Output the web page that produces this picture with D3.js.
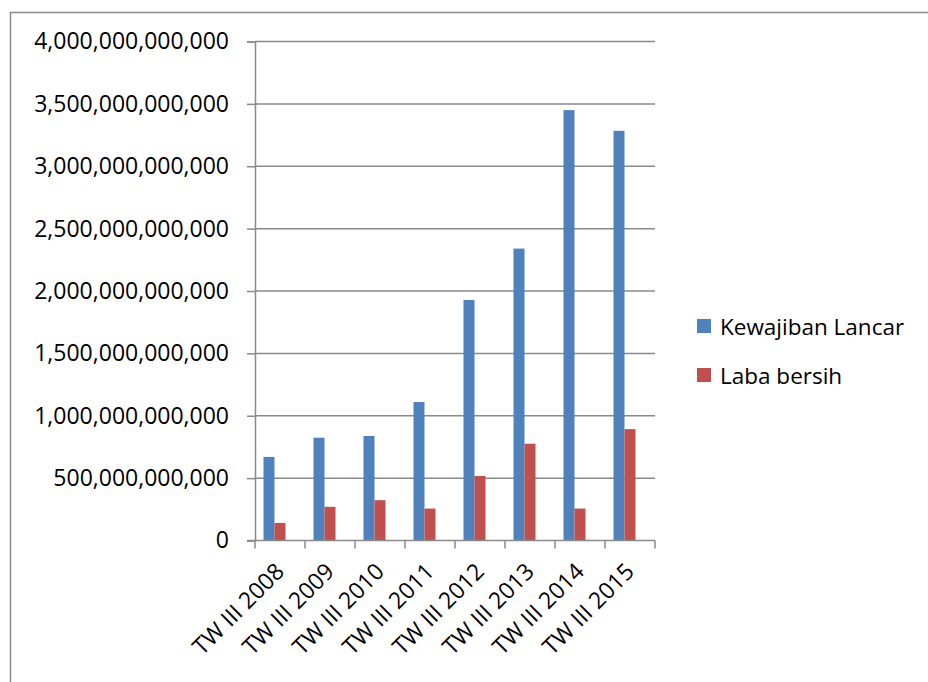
<!DOCTYPE html>
<html>
<head>
<meta charset="utf-8">
<script src="https://cdn.jsdelivr.net/npm/d3@7"></script>
<style>
  html, body { margin: 0; padding: 0; background: #fff; }
  svg text { font-family: "Open Sans", Lato, sans-serif; fill: #000; }
</style>
</head>
<body>
<svg id="chart" width="928" height="682"></svg>
<script>
// Quarterly figures (Rupiah)
const categories = ["TW III 2008", "TW III 2009", "TW III 2010", "TW III 2011",
                    "TW III 2012", "TW III 2013", "TW III 2014", "TW III 2015"];
const kewajibanLancar = [670e9, 824e9, 838e9, 1110e9, 1928e9, 2340e9, 3450e9, 3284e9];
const labaBersih = [141e9, 270e9, 323e9, 256e9, 517e9, 776e9, 256e9, 893e9];
const seriesNames = ["Kewajiban Lancar", "Laba bersih"];
const seriesColors = ["#4F81BD", "#C0504D"];
const yTicks = [0, 500e9, 1000e9, 1500e9, 2000e9, 2500e9, 3000e9, 3500e9, 4000e9];

const svg = d3.select("#chart");
const gridColor = "#8a8a8a";
const fontSize = 23;

// outer chart frame
svg.append("rect")
  .attr("x", 10.5).attr("y", 12.5)
  .attr("width", 1000).attr("height", 1000)
  .attr("fill", "none").attr("stroke", gridColor).attr("stroke-width", 1.5);

const plot = { left: 255, right: 655, top: 41.5, bottom: 540.5 };

const x = d3.scaleBand().domain(categories).range([plot.left, plot.right]);
// three slots per category (third one empty), as in the original layout
const xInner = d3.scaleBand().domain([0, 1, 2]).range([0, x.bandwidth()])
  .paddingInner(0).paddingOuter(8.5 / 11);
const y = d3.scaleLinear().domain([0, 4000e9]).range([plot.bottom, plot.top]);

const fmt = d3.format(",.0f");

// horizontal gridlines
svg.append("g").selectAll("line").data(yTicks.filter(d => d > 0)).join("line")
  .attr("x1", plot.left).attr("x2", plot.right)
  .attr("y1", d => y(d)).attr("y2", d => y(d))
  .attr("stroke", gridColor).attr("stroke-width", 1.5);

// y axis
const yAxis = svg.append("g")
  .attr("transform", `translate(${plot.left},0)`)
  .call(d3.axisLeft(y).tickValues(yTicks).tickFormat(fmt).tickSize(8).tickPadding(18));
yAxis.select(".domain").attr("stroke", gridColor).attr("stroke-width", 1.5);
yAxis.selectAll(".tick line").attr("stroke", gridColor).attr("stroke-width", 1.5);
yAxis.selectAll(".tick text").attr("font-size", fontSize)
  .attr("font-family", "'Open Sans', sans-serif").attr("fill", "#000");

// bars
const series = [kewajibanLancar, labaBersih];
series.forEach((vals, si) => {
  svg.append("g").selectAll("rect").data(vals).join("rect")
    .attr("x", (d, i) => x(categories[i]) + xInner(si))
    .attr("width", xInner.bandwidth())
    .attr("y", d => y(d))
    .attr("height", d => y(0) - y(d))
    .attr("fill", seriesColors[si]);
});

// x axis
const xAxis = svg.append("g")
  .attr("transform", `translate(0,${plot.bottom})`);
xAxis.append("line")
  .attr("x1", plot.left - 8).attr("x2", plot.right)
  .attr("stroke", gridColor).attr("stroke-width", 1.5);
const xEdges = categories.map(c => x(c)).concat([plot.right]);
xAxis.selectAll("line.tk").data(xEdges).join("line").attr("class", "tk")
  .attr("x1", d => d).attr("x2", d => d).attr("y1", 0).attr("y2", 8)
  .attr("stroke", gridColor).attr("stroke-width", 1.5);
xAxis.selectAll("text").data(categories).join("text")
  .attr("transform", d => `translate(${x(d) + x.bandwidth() / 2 - 6},${21}) rotate(-45)`)
  .attr("text-anchor", "end")
  .attr("dy", "0.71em")
  .attr("font-size", fontSize)
  .text(d => d);

// legend
const legend = svg.append("g");
seriesNames.forEach((name, i) => {
  const gy = 319 + i * 49;
  legend.append("rect").attr("x", 697).attr("y", gy).attr("width", 14).attr("height", 14)
    .attr("fill", seriesColors[i]);
  legend.append("text").attr("x", 720).attr("y", gy + 15.5)
    .attr("font-size", 22.5).text(name);
});
</script>
</body>
</html>
